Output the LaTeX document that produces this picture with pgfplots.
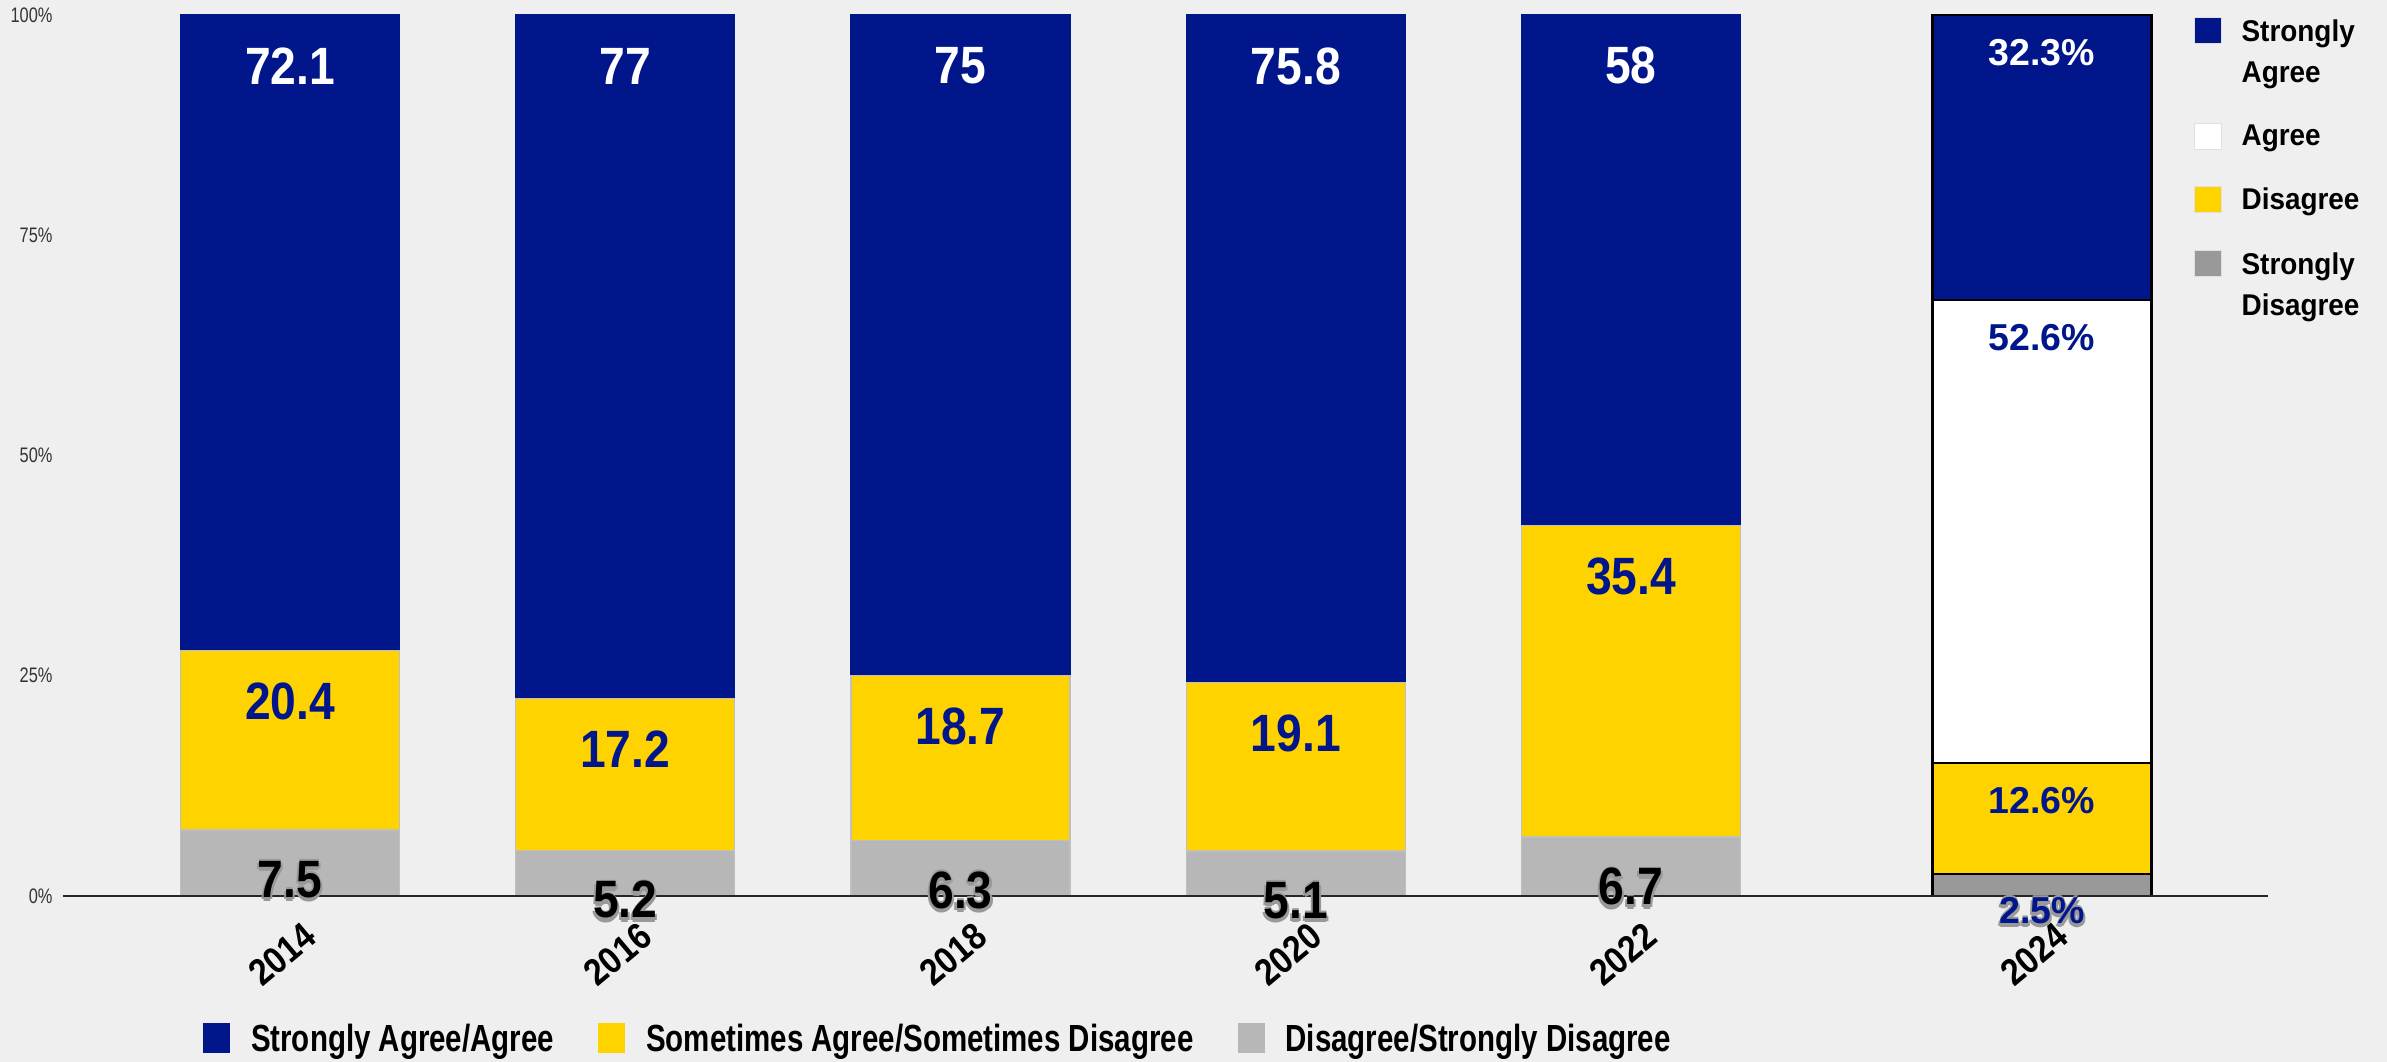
\documentclass[border=0pt]{standalone}
\usepackage{pgfplots}
\pgfplotsset{compat=1.18}
\usepackage{pgfplotstable}
\usepackage{fontspec}
\setmainfont{Liberation Sans}
\newfontfamily\narrowfont{Liberation Sans}[FakeStretch=0.78]
\newfontfamily\numfont{Liberation Sans}[FakeStretch=0.88]
\newfontfamily\legfont{Liberation Sans}[FakeStretch=0.93]

\definecolor{bg}{HTML}{EFEFEF}
\definecolor{navy}{HTML}{00168A}
\definecolor{gold}{HTML}{FFD300}
\definecolor{lgray}{HTML}{B7B7B7}
\definecolor{dgray}{HTML}{999999}
\definecolor{ticktext}{HTML}{333333}

% text with a soft grey halo
\newcommand\glow[3]{%
  \rlap{\kern0.7pt\raisebox{-0.9pt}{\textcolor{#1}{#3}}}%
  \rlap{\kern-0.7pt\raisebox{-0.9pt}{\textcolor{#1}{#3}}}%
  \rlap{\raisebox{-1.5pt}{\textcolor{#1}{#3}}}%
  \rlap{\raisebox{0.5pt}{\textcolor{#1}{#3}}}%
  \textcolor{#2}{#3}}

% heights as drawn (100% stacked) and printed labels
\pgfplotstableread{
x dsd some saa saalab
0 7.5 20.4 72.1 72.1
1 5.2 17.2 77.6 77
2 6.3 18.7 75 75
3 5.1 19.1 75.8 75.8
4 6.7 35.4 58 58
}\mainData

\pgfplotstableread{
x sd d a sa
5.226 2.5 12.6 52.6 32.3
}\lastData

\pgfplotsset{
  /pgf/number format/assume math mode=true,
  frame/.style={
    at={(0,0)}, anchor=south west,
    width=735pt, height=293.67pt, scale only axis,
    xmin=-0.6771, xmax=5.9001, ymin=0, ymax=100,
    clip=false,
    axis line style={draw=none},
    major tick length=0pt,
    ybar stacked, bar width=73pt,
    point meta=explicit,
    xtick=data,
    xticklabel style={font=\numfont\bfseries\fontsize{12.5}{14}\selectfont,
      anchor=center, inner sep=0pt, xshift=-2.5pt, yshift=-19.5pt, rotate=40},
    reverse legend,
    visualization depends on={rawy \as \segh},
  },
  % labels sit a fixed distance below the top of their segment
  bignum/.style={
    every node near coord/.append style={
      font=\numfont\bfseries\fontsize{17.5}{20}\selectfont,
      anchor=center, inner sep=0pt, yshift=\segh*1.46835pt-17pt}},
  smallnum/.style={
    every node near coord/.append style={
      font=\bfseries\fontsize{12.5}{15}\selectfont,
      anchor=center, inner sep=0pt, yshift=\segh*1.46835pt-12.7pt}},
}

\begin{document}
\begin{tikzpicture}
\path[use as bounding box, fill=bg] (-21pt,-55.33pt) rectangle (774.67pt,298.67pt);

% 2014-2022
\begin{axis}[frame,
  ytick={0,25,50,75,100},
  yticklabels={0\%,25\%,50\%,75\%,100\%},
  yticklabel style={font=\narrowfont\fontsize{7}{8}\selectfont, text=ticktext,
    anchor=east, inner sep=0pt, xshift=-3.3pt},
  xticklabels={2014,2016,2018,2020,2022},
  legend columns=3,
  legend style={draw=none, fill=none, inner sep=0pt, outer sep=0pt,
    at={(0.0635,-0.1387)}, anchor=north west,
    font=\narrowfont\bfseries\fontsize{12.6}{15}\selectfont,
    cells={anchor=base west},
    /tikz/every odd column/.append style={column sep=5pt},
    /tikz/every even column/.append style={column sep=12.7pt}},
  legend image code/.code={\path[#1, draw=none] (0pt,-0.3pt) rectangle (9pt,9.7pt);},
]
\draw[line width=0.9pt, black!85] (axis cs:-0.6771,0) -- (axis cs:4.677,0);
\addplot[fill=lgray, draw=black!25, line width=0.4pt, bignum,
  nodes near coords={\glow{black!40}{black}{\pgfmathprintnumber{\pgfplotspointmeta}}}]
  table[x=x, y=dsd, meta=dsd]{\mainData};
\addlegendentry{Disagree/Strongly Disagree}
\addplot[fill=gold, draw=black!25, line width=0.4pt, bignum,
  nodes near coords={\textcolor{navy}{\pgfmathprintnumber{\pgfplotspointmeta}}}]
  table[x=x, y=some, meta=some]{\mainData};
\addlegendentry{Sometimes Agree/Sometimes Disagree}
\addplot[fill=navy, draw=navy, line width=0.4pt, bignum,
  nodes near coords={\textcolor{white}{\pgfmathprintnumber{\pgfplotspointmeta}}}]
  table[x=x, y=saa, meta=saalab]{\mainData};
\addlegendentry{Strongly Agree/Agree}
\end{axis}

% 2024
\begin{axis}[frame,
  ytick=\empty,
  xticklabels={2024},
  legend style={draw=none, fill=none, inner sep=0pt, outer sep=0pt,
    at={(0.9664,1.0017)}, anchor=north west,
    font=\legfont\bfseries\fontsize{10}{13.7}\selectfont,
    cells={anchor=north west, align=left},
    row sep=8.7pt,
    /tikz/every odd column/.append style={column sep=4.5pt}},
  legend image code/.code={\path[#1, draw=black!12, line width=0.4pt] (0pt,-10.1pt) rectangle (9pt,-1.4pt);},
]
\draw[line width=0.9pt, black!85] (axis cs:4.549,0) -- (axis cs:5.9001,0);
\addplot[fill=dgray, draw=black, line width=0.7pt, smallnum,
  nodes near coords={\glow{black!40}{navy}{\pgfmathprintnumber[fixed,precision=1]{\pgfplotspointmeta}\%}}]
  table[x=x, y=sd, meta=sd]{\lastData};
\addlegendentry{Strongly\\Disagree}
\addplot[fill=gold, draw=black, line width=0.7pt, smallnum,
  nodes near coords={\textcolor{navy}{\pgfmathprintnumber[fixed,precision=1]{\pgfplotspointmeta}\%}}]
  table[x=x, y=d, meta=d]{\lastData};
\addlegendentry{Disagree}
\addplot[fill=white, draw=black, line width=0.7pt, smallnum,
  nodes near coords={\textcolor{navy}{\pgfmathprintnumber[fixed,precision=1]{\pgfplotspointmeta}\%}}]
  table[x=x, y=a, meta=a]{\lastData};
\addlegendentry{Agree}
\addplot[fill=navy, draw=black, line width=0.7pt, smallnum,
  nodes near coords={\textcolor{white}{\pgfmathprintnumber[fixed,precision=1]{\pgfplotspointmeta}\%}}]
  table[x=x, y=sa, meta=sa]{\lastData};
\addlegendentry{Strongly\\Agree}
\end{axis}
\end{tikzpicture}
\end{document}
